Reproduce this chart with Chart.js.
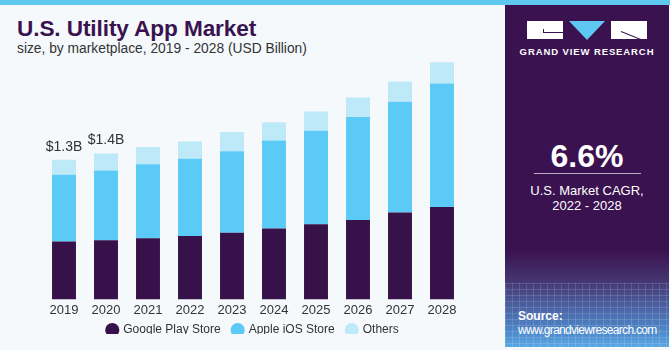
<!DOCTYPE html>
<html>
<head>
<meta charset="utf-8">
<script src="https://cdn.jsdelivr.net/npm/chart.js@4.4.1/dist/chart.umd.min.js"></script>
<style>
  html, body { margin: 0; padding: 0; }
  body {
    width: 670px;
    height: 350px;
    position: relative;
    overflow: hidden;
    background: #f5f9fc;
    font-family: "Liberation Sans", Arial, sans-serif;
  }
  .topbar { position: absolute; left: 0; top: 0; width: 670px; height: 5px; background: #5ec8ef; }
  .title { position: absolute; left: 17px; top: 16px; font-size: 22.6px; font-weight: bold; color: #3a1250; letter-spacing: -0.1px; }
  .subtitle { position: absolute; left: 17px; top: 41px; font-size: 13.8px; color: #333; }
  #chartBox { position: absolute; left: 0; top: 0; width: 505px; height: 350px; }
  .panel {
    position: absolute; left: 505px; top: 5px; width: 164px; height: 342px;
    background: linear-gradient(to bottom, #3a1250 0px, #3a1250 245px, #45356f 275px, #4b66a8 305px, #4f8fcf 330px, #5aa9e2 342px);
    overflow: hidden;
  }
  .grid {
    position: absolute; left: 0; top: 278px; width: 164px; height: 64px;
    background-image:
      repeating-linear-gradient(to right, rgba(255,255,255,0.13) 0 1px, transparent 1px 7px),
      repeating-linear-gradient(to bottom, rgba(255,255,255,0.13) 0 1px, transparent 1px 6px);
  }
  .logoL { position: absolute; left: 22px; top: 16px; width: 36px; height: 18px; background: #fff; }
  .logoL i { position: absolute; left: 16px; top: 11px; width: 20px; height: 1px; background: #3a1250; }
  .logoL b { position: absolute; left: 16px; top: 8px; width: 1px; height: 4px; background: #3a1250; }
  .logoT { position: absolute; left: 64px; top: 16px; width: 0; height: 0;
    border-left: 18.5px solid transparent; border-right: 18.5px solid transparent; border-top: 19px solid #5ec8f2; }
  .logoR { position: absolute; left: 106px; top: 16px; width: 36px; height: 18px; background: #fff; overflow: hidden; }
  .logoR i { position: absolute; left: 10px; top: 10px; width: 28px; height: 1px; background: #3a1250; transform: rotate(22deg); transform-origin: left center; }
  .logoText { position: absolute; left: 0; top: 41px; width: 164px; text-align: center; color: #fff; font-size: 9.5px; font-weight: bold; letter-spacing: 0.9px; }
  .cagr { position: absolute; left: 0; top: 133px; width: 164px; text-align: center; color: #fff; font-size: 32px; font-weight: bold; }
  .rule { position: absolute; left: 29px; top: 168px; width: 107px; height: 1px; background: #b9aec4; }
  .cagrText { position: absolute; left: 0; top: 178px; width: 164px; text-align: center; color: #fff; font-size: 13px; line-height: 15px; }
  .source { position: absolute; left: 13px; top: 304px; color: #fff; font-size: 12px; line-height: 14px; letter-spacing: -0.7px; }
  .source b { letter-spacing: 0; }
</style>
</head>
<body>
<div class="topbar"></div>
<div class="title">U.S. Utility App Market</div>
<div class="subtitle">size, by marketplace, 2019 - 2028 (USD Billion)</div>
<div id="chartBox"><canvas id="marketChart"></canvas></div>
<div class="panel">
  <div class="grid"></div>
  <div class="logoL"><i></i><b></b></div>
  <div class="logoT"></div>
  <div class="logoR"><i></i></div>
  <div class="logoText">GRAND VIEW RESEARCH</div>
  <div class="cagr">6.6%</div>
  <div class="rule"></div>
  <div class="cagrText">U.S. Market CAGR,<br>2022 - 2028</div>
  <div class="source"><b>Source:</b><br>www.grandviewresearch.com</div>
</div>
<script>
// data (USD billion)
const years = ["2019", "2020", "2021", "2022", "2023", "2024", "2025", "2026", "2027", "2028"];
const googlePlay = [0.54, 0.55, 0.57, 0.59, 0.62, 0.66, 0.70, 0.74, 0.81, 0.86];
const appleIos = [0.62, 0.65, 0.69, 0.72, 0.76, 0.82, 0.87, 0.96, 1.03, 1.15];
const others = [0.14, 0.16, 0.16, 0.16, 0.18, 0.17, 0.18, 0.18, 0.19, 0.20];
const totalLabels = ["$1.3B", "$1.4B", "", "", "", "", "", "", "", ""];

// draws the total value above the first two stacks
const totalsPlugin = {
  id: "totals",
  afterDatasetsDraw(chart) {
    const ctx = chart.ctx;
    const top = chart.getDatasetMeta(2);
    ctx.save();
    ctx.font = "14px 'Liberation Sans', Arial, sans-serif";
    ctx.fillStyle = "#333";
    ctx.textAlign = "center";
    ctx.textBaseline = "bottom";
    totalLabels.forEach((txt, i) => {
      if (!txt) return;
      const bar = top.data[i];
      ctx.fillText(txt, bar.x, bar.y - 6);
    });
    ctx.restore();
  },
};

// legend sits closer to the year labels than chart.js would put it
const legendFit = {
  id: "legendFit",
  beforeInit(chart) {
    const fit = chart.legend.fit;
    chart.legend.fit = function () {
      fit.call(this);
      this.height -= 12;
    };
  },
  afterLayout(chart) {
    chart.legend.top -= 9;
    chart.legend.bottom -= 9;
  },
};

const ctx = document.getElementById("marketChart").getContext("2d");

new Chart(ctx, {
  type: "bar",
  data: {
    labels: years,
    datasets: [
      { label: "Google Play Store", data: googlePlay, backgroundColor: "#371149" },
      { label: "Apple iOS Store", data: appleIos, backgroundColor: "#5bcaf7" },
      { label: "Others", data: others, backgroundColor: "#bde9f9" },
    ],
  },
  options: {
    responsive: true,
    maintainAspectRatio: false,
    animation: false,
    layout: { padding: { left: 43, right: 42, top: 60, bottom: 7 } },
    datasets: {
      bar: { categoryPercentage: 1, barPercentage: 0.57 },
    },
    plugins: {
      legend: {
        position: "bottom",
        labels: {
          usePointStyle: true,
          pointStyle: "circle",
          boxWidth: 10,
          boxHeight: 10,
          padding: 12,
          color: "#333",
          font: { size: 12, family: "'Liberation Sans', Arial, sans-serif" },
        },
      },
      tooltip: { enabled: false },
    },
    scales: {
      x: {
        stacked: true,
        grid: { display: false, drawTicks: false },
        border: { display: false },
        ticks: { color: "#333", padding: 3, font: { size: 13, family: "'Liberation Sans', Arial, sans-serif" } },
      },
      y: {
        stacked: true,
        display: false,
        min: 0,
        max: 2.23,
      },
    },
  },
  plugins: [totalsPlugin, legendFit],
});
</script>
</body>
</html>
